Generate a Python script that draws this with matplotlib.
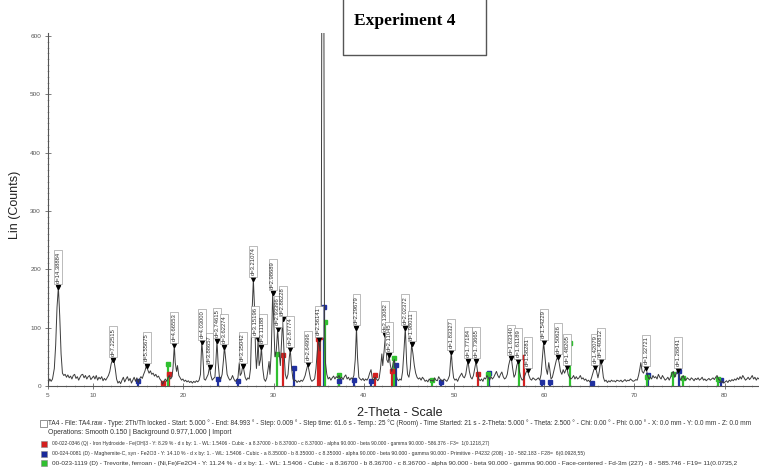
import matplotlib
matplotlib.use("Agg")
import matplotlib.pyplot as plt
from matplotlib.lines import Line2D
from matplotlib.patches import Rectangle

# ---------------- data ----------------
trace = [
    (5.0, 5), (5.2, 12), (5.35, 8), (5.5, 12), (5.7, 30), (5.85, 70), (6.0, 135), (6.15, 170), (6.3, 120),
    (6.45, 55), (6.6, 22), (6.75, 18), (6.9, 20), (7.05, 15), (7.2, 19), (7.35, 14), (7.5, 17), (7.65, 12),
    (7.8, 18), (7.95, 20), (8.1, 13), (8.25, 16), (8.4, 10), (8.55, 15), (8.7, 19), (8.85, 20), (9.0, 14),
    (9.15, 18), (9.3, 12), (9.45, 16), (9.6, 18), (9.75, 11), (9.9, 14), (10.05, 17), (10.2, 12), (10.35, 18),
    (10.5, 10), (10.65, 15), (10.8, 12), (10.95, 16), (11.1, 9), (11.25, 13), (11.4, 10), (11.55, 14),
    (11.7, 18), (11.85, 25), (12.0, 38), (12.15, 45), (12.3, 44), (12.45, 30), (12.6, 12), (12.75, 5),
    (12.9, 8), (13.05, 4), (13.2, 10), (13.35, 15), (13.5, 7), (13.65, 12), (13.8, 16), (13.95, 9),
    (14.1, 13), (14.25, 5), (14.4, 10), (14.55, 15), (14.7, 8), (14.85, 14), (15.0, 6), (15.15, 12),
    (15.3, 16), (15.45, 13), (15.6, 20), (15.75, 26), (15.9, 35), (16.05, 28), (16.2, 22), (16.35, 26),
    (16.5, 20), (16.65, 22), (16.8, 17), (16.95, 20), (17.1, 15), (17.25, 17), (17.4, 12), (17.55, 9),
    (17.7, 3), (17.85, 8), (18.0, 12), (18.15, 8), (18.3, 14), (18.45, 18), (18.6, 12), (18.75, 16),
    (18.85, 30), (19.0, 70), (19.1, 40), (19.25, 25), (19.35, 35), (19.5, 18), (19.65, 14), (19.8, 10),
    (19.95, 12), (20.1, 8), (20.25, 10), (20.4, 7), (20.55, 9), (20.7, 6), (20.85, 8), (21.0, 5),
    (21.15, 8), (21.3, 6), (21.45, 9), (21.6, 7), (21.75, 10), (21.9, 20), (22.0, 60), (22.05, 75),
    (22.15, 55), (22.3, 12), (22.45, 10), (22.6, 15), (22.75, 20), (22.9, 33), (23.05, 18), (23.2, 10),
    (23.35, 13), (23.5, 15), (23.6, 40), (23.73, 77), (23.85, 40), (24.0, 15), (24.15, 12), (24.3, 20),
    (24.45, 45), (24.55, 67), (24.7, 45), (24.85, 20), (25.0, 14), (25.15, 10), (25.3, 12), (25.45, 18),
    (25.6, 12), (25.75, 8), (25.9, 10), (26.05, 14), (26.2, 40), (26.3, 18), (26.45, 22), (26.58, 35),
    (26.7, 28), (26.85, 15), (27.0, 10), (27.15, 14), (27.3, 12), (27.45, 30), (27.6, 120), (27.76, 183),
    (27.9, 130), (28.0, 60), (28.1, 30), (28.2, 50), (28.28, 80), (28.4, 35), (28.55, 45), (28.65, 67),
    (28.8, 30), (28.95, 12), (29.1, 8), (29.25, 14), (29.4, 30), (29.5, 42), (29.6, 20), (29.75, 60),
    (29.9, 160), (30.0, 120), (30.15, 50), (30.3, 60), (30.45, 97), (30.6, 60), (30.75, 35), (30.9, 80),
    (31.0, 115), (31.15, 60), (31.3, 20), (31.45, 12), (31.6, 20), (31.75, 50), (31.85, 63), (32.0, 30),
    (32.15, 12), (32.3, 8), (32.45, 10), (32.6, 6), (32.75, 9), (32.9, 7), (33.05, 10), (33.2, 8),
    (33.35, 12), (33.5, 18), (33.65, 28), (33.8, 37), (33.95, 25), (34.1, 12), (34.25, 8), (34.4, 10),
    (34.55, 12), (34.7, 30), (34.85, 60), (35.0, 80), (35.15, 60), (35.28, 120), (35.34, 620), (35.58, 620),
    (35.64, 110), (35.75, 40), (35.9, 20), (36.05, 12), (36.2, 15), (36.35, 10), (36.5, 14), (36.65, 17),
    (36.8, 12), (36.95, 16), (37.1, 14), (37.25, 18), (37.4, 12), (37.55, 15), (37.7, 11), (37.85, 16),
    (38.0, 19), (38.15, 12), (38.3, 15), (38.45, 10), (38.6, 14), (38.75, 12), (38.9, 18), (39.05, 45),
    (39.19, 100), (39.3, 50), (39.45, 15), (39.6, 12), (39.75, 10), (39.9, 13), (40.05, 9), (40.2, 12),
    (40.35, 10), (40.5, 14), (40.65, 22), (40.8, 28), (40.95, 12), (41.1, 10), (41.25, 15), (41.4, 12),
    (41.55, 9), (41.7, 13), (41.85, 30), (42.0, 55), (42.1, 35), (42.25, 60), (42.4, 88), (42.55, 45),
    (42.7, 40), (42.8, 53), (42.95, 35), (43.1, 25), (43.25, 40), (43.4, 45), (43.55, 20), (43.7, 12),
    (43.85, 9), (44.0, 12), (44.15, 10), (44.3, 25), (44.45, 60), (44.6, 100), (44.75, 40), (44.85, 20),
    (45.0, 15), (45.15, 30), (45.3, 72), (45.45, 55), (45.6, 35), (45.75, 22), (45.9, 15), (46.05, 12),
    (46.2, 14), (46.35, 10), (46.5, 15), (46.65, 12), (46.8, 8), (46.95, 10), (47.1, 7), (47.25, 12),
    (47.4, 9), (47.55, 10), (47.7, 8), (47.85, 14), (48.0, 10), (48.15, 9), (48.3, 16), (48.45, 12),
    (48.6, 10), (48.75, 8), (48.9, 12), (49.05, 10), (49.2, 8), (49.35, 12), (49.5, 18), (49.6, 40),
    (49.7, 58), (49.8, 35), (49.95, 14), (50.1, 10), (50.25, 12), (50.4, 8), (50.55, 14), (50.7, 18),
    (50.85, 22), (51.0, 16), (51.15, 14), (51.3, 20), (51.45, 35), (51.55, 43), (51.7, 25), (51.85, 15),
    (52.0, 12), (52.15, 18), (52.3, 30), (52.45, 43), (52.6, 25), (52.75, 12), (52.9, 9), (53.05, 12),
    (53.2, 8), (53.35, 14), (53.5, 12), (53.65, 18), (53.8, 14), (53.95, 10), (54.1, 16), (54.25, 12),
    (54.4, 15), (54.55, 20), (54.7, 25), (54.85, 18), (55.0, 14), (55.15, 20), (55.3, 24), (55.45, 16),
    (55.6, 12), (55.75, 14), (55.9, 20), (56.05, 35), (56.2, 45), (56.35, 48), (56.5, 30), (56.65, 15),
    (56.8, 20), (56.95, 35), (57.1, 42), (57.25, 25), (57.4, 15), (57.55, 10), (57.7, 12), (57.85, 18),
    (58.0, 24), (58.15, 27), (58.3, 18), (58.45, 12), (58.6, 10), (58.75, 14), (58.9, 12), (59.05, 10),
    (59.2, 12), (59.35, 14), (59.5, 10), (59.65, 20), (59.8, 50), (59.93, 75), (60.05, 55), (60.2, 30),
    (60.35, 20), (60.5, 40), (60.6, 30), (60.75, 12), (60.9, 15), (61.05, 25), (61.2, 35), (61.35, 45),
    (61.5, 50), (61.65, 40), (61.8, 25), (61.95, 20), (62.1, 28), (62.25, 22), (62.4, 28), (62.5, 32),
    (62.65, 20), (62.8, 15), (62.95, 12), (63.1, 14), (63.25, 18), (63.4, 12), (63.55, 16), (63.7, 12),
    (63.85, 14), (64.0, 18), (64.15, 12), (64.3, 14), (64.45, 10), (64.6, 12), (64.75, 8), (64.9, 10),
    (65.05, 7), (65.2, 12), (65.35, 20), (65.5, 28), (65.65, 32), (65.8, 25), (65.95, 14), (66.1, 25),
    (66.25, 42), (66.4, 35), (66.55, 15), (66.7, 8), (66.85, 10), (67.0, 6), (67.15, 9), (67.3, 7),
    (67.45, 10), (67.6, 8), (67.75, 9), (67.9, 7), (68.05, 10), (68.2, 9), (68.35, 8), (68.5, 10),
    (68.65, 7), (68.8, 9), (68.95, 11), (69.1, 8), (69.25, 10), (69.4, 9), (69.55, 12), (69.7, 10),
    (69.85, 8), (70.0, 9), (70.15, 11), (70.3, 10), (70.45, 18), (70.6, 30), (70.7, 40), (70.85, 25),
    (71.0, 22), (71.15, 28), (71.3, 30), (71.45, 18), (71.6, 12), (71.75, 15), (71.9, 12), (72.05, 18),
    (72.2, 14), (72.35, 16), (72.5, 12), (72.65, 20), (72.8, 15), (72.95, 12), (73.1, 18), (73.25, 14),
    (73.4, 10), (73.55, 12), (73.7, 15), (73.85, 10), (74.0, 15), (74.15, 22), (74.3, 25), (74.45, 15),
    (74.6, 20), (74.8, 27), (74.95, 18), (75.1, 10), (75.25, 14), (75.4, 18), (75.55, 12), (75.7, 10),
    (75.85, 14), (76.0, 12), (76.15, 10), (76.3, 14), (76.45, 12), (76.6, 9), (76.75, 13), (76.9, 11),
    (77.05, 14), (77.2, 10), (77.35, 12), (77.5, 15), (77.65, 10), (77.8, 12), (77.95, 9), (78.1, 11),
    (78.25, 13), (78.4, 10), (78.55, 12), (78.7, 14), (78.85, 11), (79.0, 15), (79.15, 18), (79.3, 12),
    (79.45, 10), (79.6, 6), (79.75, 8), (79.9, 5), (80.05, 7), (80.2, 9), (80.35, 6), (80.5, 10),
    (80.65, 8), (80.8, 11), (80.95, 9), (81.1, 12), (81.25, 10), (81.4, 14), (81.55, 11), (81.7, 16),
    (81.85, 12), (82.0, 18), (82.15, 14), (82.3, 10), (82.45, 12), (82.6, 15), (82.75, 11), (82.9, 14),
    (83.05, 18), (83.2, 12), (83.35, 15), (83.5, 10), (83.65, 14), (83.8, 12), (83.95, 16), (84.1, 12),
]
two_theta = [p[0] for p in trace]
counts = [p[1] for p in trace]

peak_pos = [6.15, 12.22, 15.93, 19.0, 22.05, 22.9, 23.73, 24.55, 26.58, 27.76, 28.28, 28.65,
            29.9, 30.45, 31.0, 31.85, 33.8, 35.0, 39.19, 42.4, 42.8, 44.6, 45.3, 49.7,
            51.55, 52.45, 56.35, 57.1, 58.15, 59.93, 61.5, 62.5, 65.65, 66.25, 71.3, 74.8]
peak_h = [170, 45, 35, 70, 75, 33, 77, 67, 35, 183, 80, 67,
          160, 97, 115, 63, 37, 80, 100, 88, 53, 100, 72, 58,
          43, 43, 48, 42, 27, 75, 50, 32, 32, 42, 30, 27]
peak_lbl = ["d=14.38884", "d=7.22515", "d=5.55675", "d=4.66553", "d=4.03000", "d=3.88657",
            "d=3.74615", "d=3.62274", "d=3.35042", "d=3.21074", "d=3.15196", "d=3.11188",
            "d=2.98689", "d=2.93396", "d=2.88228", "d=2.87774", "d=2.64996", "d=2.56141",
            "d=2.29679", "d=2.13082", "d=2.11045", "d=2.02372", "d=1.98011", "d=1.83327",
            "d=1.77184", "d=1.73665", "d=1.63340", "d=1.61189", "d=1.58281", "d=1.54229",
            "d=1.50626", "d=1.48205", "d=1.42079", "d=1.40812", "d=1.32721", "d=1.26841"]
# horizontal nudge of a few crowded labels (degrees)
label_nudge = {10: -0.3, 11: 0.15}

red_pos = [17.8, 18.4, 31.0, 34.95, 35.1, 41.2, 43.1, 52.7, 57.7]
red_h = [5, 20, 53, 80, 84, 18, 25, 20, 50]
blue_pos = [15.0, 23.8, 26.1, 32.3, 35.62, 37.3, 38.9, 40.8, 43.6, 48.6, 53.9, 59.7, 60.6, 65.3, 71.5, 74.9, 79.6]
blue_h = [8, 12, 8, 31, 135, 8, 10, 8, 36, 6, 22, 6, 6, 5, 18, 25, 10]
green_pos = [18.35, 30.35, 35.66, 37.2, 43.3, 47.6, 53.8, 57.2, 62.9, 71.4, 74.3, 75.4, 79.3]
green_h = [37, 55, 110, 18, 48, 10, 20, 56, 74, 15, 20, 14, 12]

x_ticks = [5, 10, 20, 30, 40, 50, 60, 70, 80]
y_ticks = [0, 100, 200, 300, 400, 500, 600]

info_lines = [
    "TA4 - File: TA4.raw - Type: 2Th/Th locked - Start: 5.000 \u00b0 - End: 84.993 \u00b0 - Step: 0.009 \u00b0 - Step time: 61.6 s - Temp.: 25 \u00b0C (Room) - Time Started: 21 s - 2-Theta: 5.000 \u00b0 - Theta: 2.500 \u00b0 - Chi: 0.00 \u00b0 - Phi: 0.00 \u00b0 - X: 0.0 mm - Y: 0.0 mm - Z: 0.0 mm",
    "Operations: Smooth 0.150 | Background 0.977,1.000 | Import",
    "00-022-0346 (Q) - Iron Hydroxide - Fe(OH)3 - Y: 8.29 % - d x by: 1. - WL: 1.5406 - Cubic - a 8.37000 - b 8.37000 - c 8.37000 - alpha 90.000 - beta 90.000 - gamma 90.000 - 586.376 - F3=  1(0.1218,27)",
    "00-024-0081 (D) - Maghemite-C, syn - Fe2O3 - Y: 14.10 % - d x by: 1. - WL: 1.5406 - Cubic - a 8.35000 - b 8.35000 - c 8.35000 - alpha 90.000 - beta 90.000 - gamma 90.000 - Primitive - P4232 (208) - 10 - 582.183 - F28=  6(0.0928,55)",
    "00-023-1119 (D) - Trevorite, ferroan - (Ni,Fe)Fe2O4 - Y: 11.24 % - d x by: 1. - WL: 1.5406 - Cubic - a 8.36700 - b 8.36700 - c 8.36700 - alpha 90.000 - beta 90.000 - gamma 90.000 - Face-centered - Fd-3m (227) - 8 - 585.746 - F19= 11(0.0735,2",
]
info_colors = [None, None, "#d42020", "#1a2a9a", "#30c030"]

# ---------------- figure ----------------
W, H = 759, 468
fig = plt.figure(figsize=(W / 100, H / 100), dpi=100)
plt.rcParams['font.family'] = ['Liberation Sans', 'DejaVu Sans']

ax = fig.add_axes([48 / W, (H - 386) / H, (W - 48) / W, (386 - 33) / H])
ax.set_xlim(5, 83.8)
ax.set_ylim(0, 605)

# stick patterns
for pos, h, col in ((red_pos, red_h, "#d42020"), (blue_pos, blue_h, "#2030a0"), (green_pos, green_h, "#30c030")):
    ax.vlines(pos, 0, h, colors=col, lw=1.6, zorder=2)
    ax.plot(pos, h, ls="none", marker="s", ms=2.2, color=col, zorder=3)

ax.plot(two_theta, counts, color="#3c3c3c", lw=0.7, zorder=4)

# peak markers and labels
ax.plot(peak_pos, peak_h, ls="none", marker="v", ms=3, color="black", zorder=5)
for i, (xp, yp, t) in enumerate(zip(peak_pos, peak_h, peak_lbl)):
    ax.text(xp + label_nudge.get(i, 0), yp + 7, t, rotation=90, ha="center", va="bottom", fontsize=4.2,
            color="#333333", bbox=dict(boxstyle="square,pad=0.25", fc="white", ec="#888888", lw=0.4), zorder=6)

# axes styling
for s in ("top", "right"):
    ax.spines[s].set_visible(False)
for s in ("left", "bottom"):
    ax.spines[s].set_color("#555555")
    ax.spines[s].set_linewidth(0.8)
ax.set_xticks(x_ticks)
ax.set_xticks(range(5, 84), minor=True)
ax.set_yticks(y_ticks)
ax.set_yticks(range(0, 601, 10), minor=True)
ax.tick_params(which="major", direction="inout", length=4, width=0.6, colors="#666666",
               labelsize=4.6, labelcolor="#555555", pad=3)
ax.tick_params(which="minor", direction="inout", length=2, width=0.4, colors="#888888")

fig.text(15 / W, 1 - 205 / H, "Lin (Counts)", rotation=90, ha="center", va="center", fontsize=9, color="#222222")
fig.text(400 / W, 1 - 413 / H, "2-Theta - Scale", ha="center", va="center", fontsize=9, color="#222222")

# title box
fig.add_artist(Line2D([343 / W, 343 / W, 486 / W, 486 / W], [1.0, 1 - 55 / H, 1 - 55 / H, 1.0],
                      transform=fig.transFigure, color="#555555", lw=1.0))
fig.text(354 / W, 1 - 21 / H, "Experiment 4", ha="left", va="center", fontsize=12.5, fontweight="bold",
         family="Liberation Serif", color="black")

# info lines
ys = [423, 433, 444, 454, 463]
sizes = [4.7, 4.9, 3.56, 3.73, 4.6]
for t, c, y, fs in zip(info_lines, info_colors, ys, sizes):
    xt = 48 if c is None else 52
    if c is not None:
        fig.add_artist(Rectangle((41 / W, 1 - (y + 3) / H), 6 / W, 6 / H, transform=fig.transFigure,
                                 fc=c, ec="#888888", lw=0.4))
    fig.text(xt / W, 1 - y / H, t, ha="left", va="center", fontsize=fs, color="#333333")
fig.add_artist(Rectangle((40 / W, 1 - 427 / H), 7 / W, 7 / H, transform=fig.transFigure,
                         fc="white", ec="#666666", lw=0.5))

fig.savefig("out.png", dpi=100)
